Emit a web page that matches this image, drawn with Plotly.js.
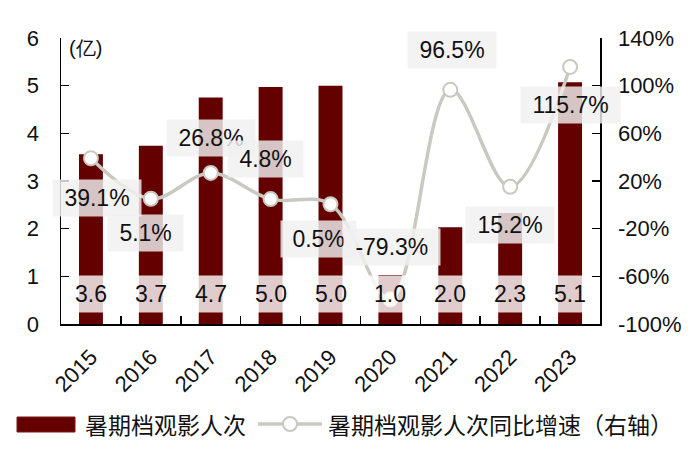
<!DOCTYPE html>
<html>
<head>
<meta charset="utf-8">
<script src="https://cdn.plot.ly/plotly-3.0.1.min.js"></script>
<style>html,body{margin:0;padding:0;background:#fff;}#chart{width:700px;height:458px;}</style>
</head>
<body>
<div id="chart"></div>
<script>
const years = ['2015','2016','2017','2018','2019','2020','2021','2022','2023'];
const admissions = [3.56, 3.74, 4.75, 4.97, 5.0, 1.03, 2.03, 2.33, 5.07];
const admissionLabels = ['3.6','3.7','4.7','5.0','5.0','1.0','2.0','2.3','5.1'];
const growth = [39.1, 5.1, 26.8, 4.8, 0.5, -79.3, 96.5, 15.2, 115.7];
const rightTickVals = [-100, -60, -20, 20, 60, 100, 140];
const rightTickText = ['-100%', '-60%', '-20%', '20%', '60%', '100%', '140%'];
const barName = '暑期档观影人次';
const lineName = '暑期档观影人次同比增速（右轴）';
const unitLabel = '(亿)';
// label placement offsets (pixels) for growth labels
const growthLabelDx = [6, -5, 0, -5, -12, 2, 2, 0, 0];
const growthLabelDy = [-40, -34, 35, 40, -35, 52, 40, -38, -38];

const font = 'Liberation Sans, Arial, sans-serif';
const cjkFont = 'Noto Sans CJK SC, sans-serif';
const barColor = '#640000';
const lineColor = '#c9c9c1';
const fs = 23;

const traces = [
  {
    type: 'bar', x: years, y: admissions, name: barName,
    marker: {color: barColor}, yaxis: 'y', hoverinfo: 'skip', showlegend: false
  },
  {
    type: 'scatter', mode: 'lines+markers', x: years, y: growth, name: lineName,
    yaxis: 'y2', line: {color: lineColor, width: 3.5, shape: 'spline', smoothing: 1},
    marker: {size: 14, color: '#ffffff', line: {color: lineColor, width: 2}},
    hoverinfo: 'skip', cliponaxis: false, showlegend: false
  }
];

const annotations = [];
years.forEach((yr, i) => {
  annotations.push({
    x: i, y: 0, xref: 'x', yref: 'y', yanchor: 'bottom',
    yshift: 11, showarrow: false,
    text: admissionLabels[i],
    font: {family: font, size: fs, color: '#111'},
    bgcolor: 'rgba(255,255,255,0.8)', borderpad: 5
  });
});
years.forEach((yr, i) => {
  annotations.push({
    x: i, y: growth[i], xref: 'x', yref: 'y2',
    xshift: growthLabelDx[i], yshift: growthLabelDy[i], showarrow: false,
    text: '\u00a0' + growth[i].toFixed(1) + '%\u00a0',
    font: {family: font, size: fs, color: '#111'},
    bgcolor: 'rgba(240,240,240,0.82)', borderpad: 5
  });
});
annotations.push({
  x: 0.012, y: 1.01, xref: 'paper', yref: 'paper', xanchor: 'left', yanchor: 'top',
  showarrow: false, text: unitLabel, font: {family: font, size: 20, color: '#111'}
});

// manual legend (paper coordinates; plot area is 539 x 286 px)
const px = v => (v - 61) / 539;
const py = v => (324 - v) / 286;
annotations.push({
  x: px(83), y: py(424), xref: 'paper', yref: 'paper', xanchor: 'left', yanchor: 'middle',
  showarrow: false, text: barName, font: {family: cjkFont, size: fs, color: '#111'}
});
annotations.push({
  x: px(326), y: py(424), xref: 'paper', yref: 'paper', xanchor: 'left', yanchor: 'middle',
  showarrow: false, text: lineName, font: {family: cjkFont, size: fs, color: '#111'}
});
const shapes = [
  {type: 'rect', xref: 'paper', yref: 'paper', x0: px(17), x1: px(75), y0: py(432), y1: py(417),
   fillcolor: barColor, line: {color: '#7a1a1a', width: 1}},
  {type: 'line', xref: 'paper', yref: 'paper', x0: px(258), x1: px(322), y0: py(424), y1: py(424),
   line: {color: lineColor, width: 3.5}},
  {type: 'circle', xref: 'paper', yref: 'paper', x0: px(283), x1: px(297), y0: py(431), y1: py(417),
   fillcolor: '#ffffff', line: {color: lineColor, width: 2}}
];

const layout = {
  width: 700, height: 458,
  margin: {l: 61, r: 100, t: 38, b: 134},
  paper_bgcolor: '#fff', plot_bgcolor: '#fff',
  font: {family: font, color: '#111', size: fs},
  bargap: 0.6,
  showlegend: false,
  xaxis: {
    type: 'category', range: [-0.5, years.length - 0.5], autorange: false,
    showline: true, linecolor: '#000', linewidth: 1.5,
    ticks: 'inside', tickson: 'boundaries', ticklen: 8, tickcolor: '#000', tickwidth: 1.5,
    tickangle: -45, tickfont: {family: font, size: 22, color: '#111'}, ticklabelstandoff: 10,
    showgrid: false, zeroline: false, fixedrange: true
  },
  yaxis: {
    range: [0, 6], autorange: false, dtick: 1, showline: true, linecolor: '#000', linewidth: 1.5,
    ticks: 'inside', ticklen: 8, tickcolor: '#000', tickwidth: 1.5,
    tickfont: {family: font, size: 22, color: '#111'}, ticklabelstandoff: 16,
    showgrid: false, zeroline: false, fixedrange: true
  },
  yaxis2: {
    range: [-100, 140], autorange: false, tickmode: 'array', tickvals: rightTickVals, ticktext: rightTickText,
    overlaying: 'y', side: 'right',
    showline: true, linecolor: '#000', linewidth: 1.5,
    ticks: 'inside', ticklen: 8, tickcolor: '#000', tickwidth: 1.5,
    tickfont: {family: font, size: 22, color: '#111'}, ticklabelstandoff: 12,
    showgrid: false, zeroline: false, fixedrange: true
  },
  annotations: annotations,
  shapes: shapes
};

Plotly.newPlot('chart', traces, layout, {displayModeBar: false, staticPlot: true});
</script>
</body>
</html>
